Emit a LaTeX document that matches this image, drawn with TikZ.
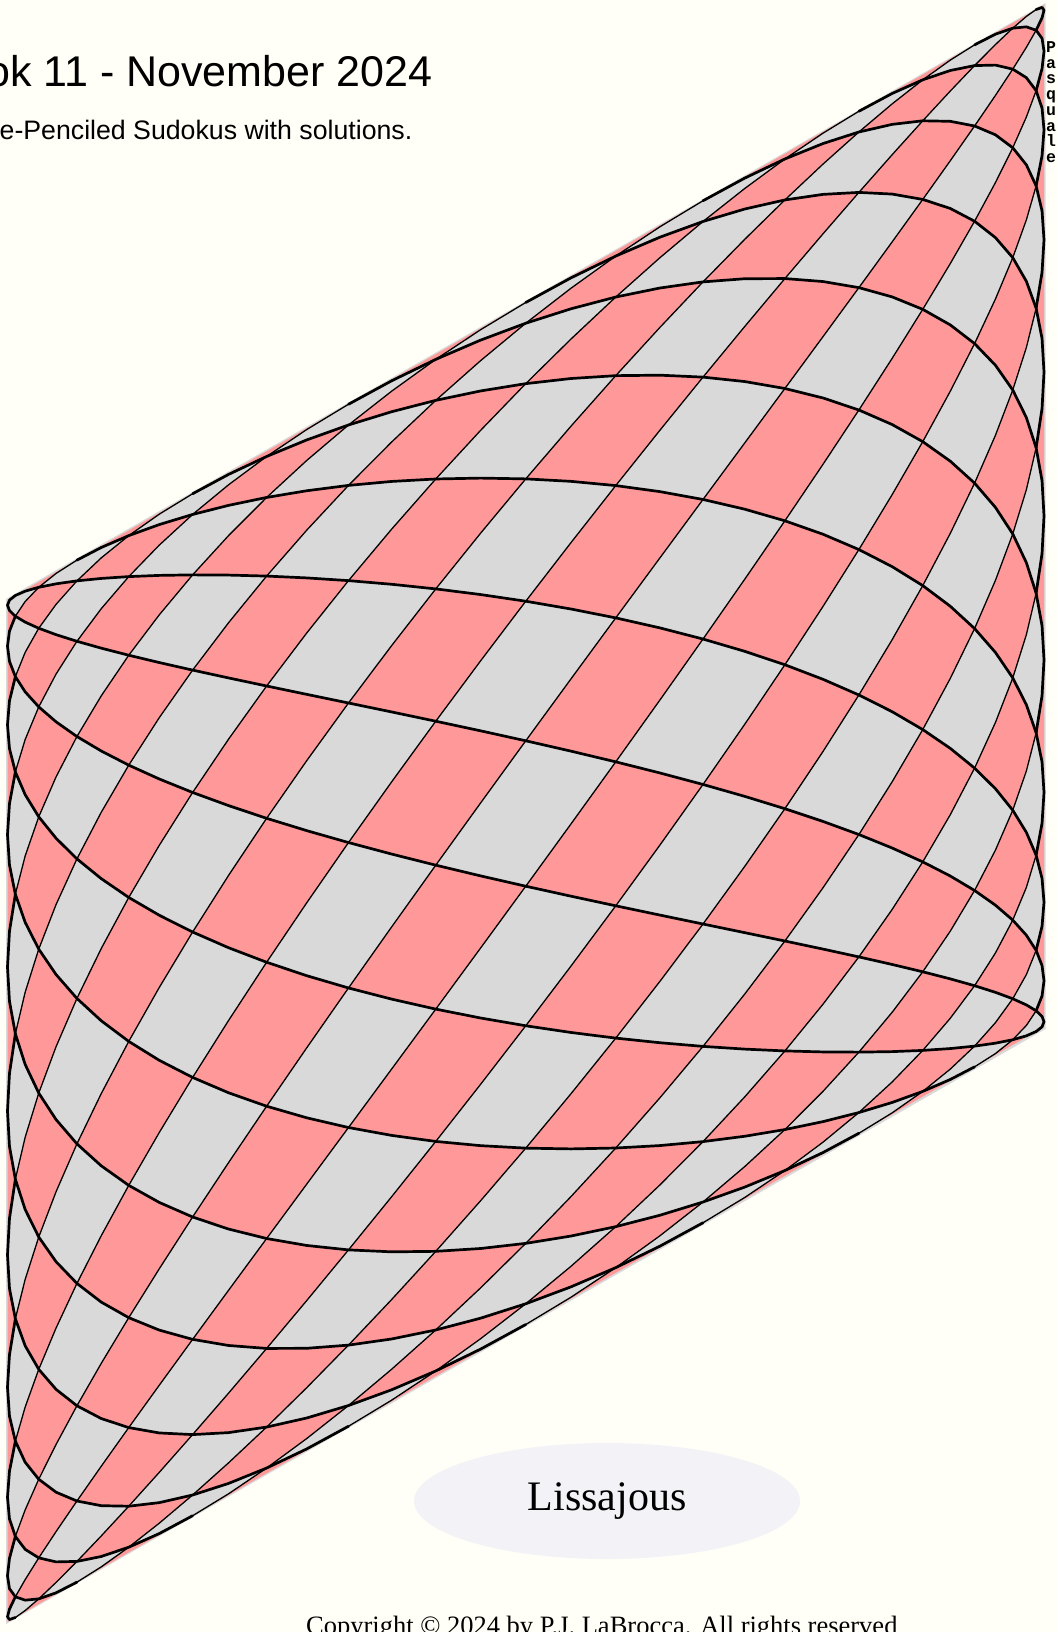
\documentclass[tikz,border=0pt]{standalone}
\usepackage{fontspec}
\setmainfont{Liberation Serif}
\newfontfamily\titlefont{Liberation Sans}
\newfontfamily\monofont{Liberation Mono}
\usetikzlibrary{shapes.geometric}
\definecolor{bgc}{RGB}{255,255,247}
\definecolor{pinkc}{RGB}{255,153,153}
\definecolor{greyc}{RGB}{217,217,217}
\definecolor{ellc}{RGB}{243,243,247}
\tikzset{liss/.cd, i/.store in=\lissI, j/.store in=\lissJ}
\tikzdeclarecoordinatesystem{liss}{%
  \tikzset{liss/.cd,#1}%
  \pgfmathsetmacro\lsX{(1-cos(10*(\lissI)))/2}%
  \pgfmathsetmacro\lsY{(1-cos(180/22*(\lissJ)))/2}%
  \pgfmathsetmacro\lsx{7.5+1036.5*\lsX}%
  \pgfmathsetmacro\lsy{600-595*\lsX+1022*\lsY}%
  \pgfpoint{\lsx pt}{-\lsy pt}%
}
\begin{document}
\begin{tikzpicture}[x=1pt,y=-1pt,
  thickl/.style={line width=2.7pt, line join=round, line cap=round},
  thinl/.style={line width=1.3pt, line join=round}]
\useasboundingbox (0,0) rectangle (1057,1632);
\fill[bgc] (0,0) rectangle (1057,1632);
% grey backing of the lattice
\fill[greyc] (6,599) -- (1045.5,3) -- (1045.5,1029) -- (6,1624) -- cycle;
% pink cells
\foreach \ci in {0,2,...,18}{
  \foreach \cj in {0,2,...,22}{
    \pgfmathsetmacro\iA{max(\ci-1,0)}
    \pgfmathsetmacro\iB{max(\ci-0.5,0)}
    \pgfmathsetmacro\iD{min(\ci+0.5,18)}
    \pgfmathsetmacro\iE{min(\ci+1,18)}
    \pgfmathsetmacro\jA{max(\cj-1,0)}
    \pgfmathsetmacro\jB{max(\cj-0.5,0)}
    \pgfmathsetmacro\jD{min(\cj+0.5,22)}
    \pgfmathsetmacro\jE{min(\cj+1,22)}
    \fill[pinkc] (liss cs:i=\iA,j=\cj) -- (liss cs:i=\iB,j=\jB) -- (liss cs:i=\ci,j=\jA)
      -- (liss cs:i=\iD,j=\jB) -- (liss cs:i=\iE,j=\cj) -- (liss cs:i=\iD,j=\jD)
      -- (liss cs:i=\ci,j=\jE) -- (liss cs:i=\iB,j=\jD) -- cycle;
  }
}
% thin strands
\foreach \kk in {1,3,...,39}{
  \pgfmathsetmacro\lsS{ifthenelse(\kk>22, \kk-23, 0)}
  \pgfmathsetmacro\lsE{ifthenelse(\kk<18, \kk+1, 18)}
  \pgfmathsetmacro\lsSb{\lsS+0.5}
  \pgfmathsetmacro\lsSc{\lsS+1}
  \pgfmathsetmacro\lsJs{\kk-\lsS}
  \draw[thinl] (liss cs:i=\lsS,j=\lsJs)
    \foreach \pp [evaluate=\pp as \jj using \kk-\pp] in {\lsSb,\lsSc,...,\lsE} { -- (liss cs:i=\pp,j=\jj) };
}
% thick strands
\foreach \k in {-17,-15,...,21}{
  \pgfmathsetmacro\lsS{ifthenelse(\k>0, -1, 0-(\k))}
  \pgfmathsetmacro\lsE{ifthenelse(\k<4, 19, 22-(\k))}
  \pgfmathsetmacro\lsSb{\lsS+0.5}
  \pgfmathsetmacro\lsSc{\lsS+1}
  \pgfmathsetmacro\lsJs{\lsS+(\k)}
  \draw[thickl] (liss cs:i=\lsS,j=\lsJs)
    \foreach \pp [evaluate=\pp as \jj using \pp+(\k)] in {\lsSb,\lsSc,...,\lsE} { -- (liss cs:i=\pp,j=\jj) };
}
% texts
\node[font=\titlefont\fontsize{43}{50}\selectfont, anchor=base west, inner sep=0] (title) at (-14,87) {ok 11 - November 2024};
\node[font=\titlefont\fontsize{26.7}{31}\selectfont, anchor=base west, inner sep=0] (subtitle) at (-0.5,139.5) {e-Penciled Sudokus with solutions.};
\node[font=\monofont\bfseries\fontsize{16.5}{15.7}\selectfont, anchor=north west, inner sep=0, align=left] (vert) at (1046,41.5) {P\\a\\s\\q\\u\\a\\l\\e};
\node[ellipse, fill=ellc, minimum width=386pt, minimum height=116pt, inner sep=0, font=\fontsize{42}{50}\selectfont] (lissname) at (607,1501) {Lissajous};
\node[font=\fontsize{26.5}{32}\selectfont, anchor=base west, inner sep=0] (copyright) at (306,1634) {Copyright © 2024 by P.J. LaBrocca. All rights reserved};
\end{tikzpicture}
\end{document}
